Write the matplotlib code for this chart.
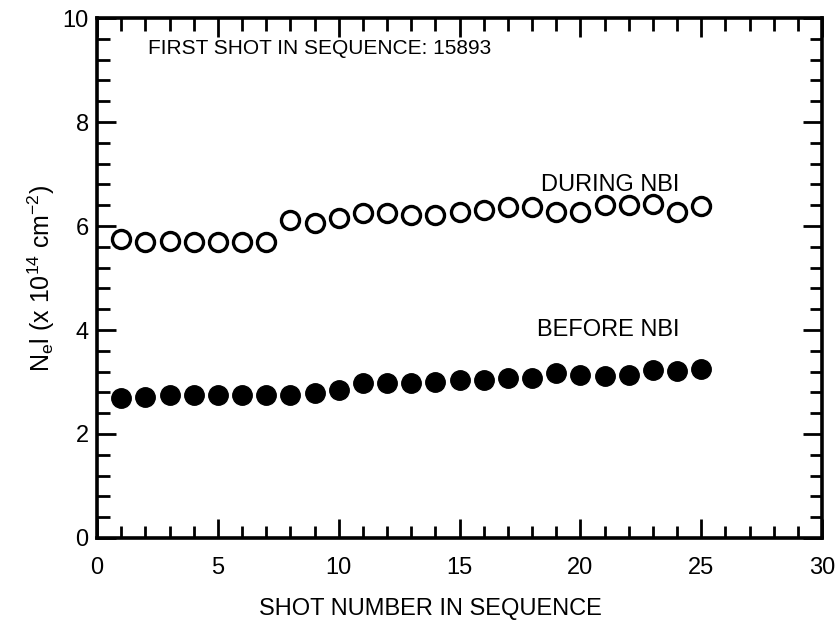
import matplotlib.pyplot as plt
from matplotlib.ticker import MultipleLocator

plt.rcParams['font.family'] = ['Liberation Sans', 'DejaVu Sans']

# shot number in sequence
shots = list(range(1, 26))
# line density during NBI (open circles), x 10^14 cm^-2
during_nbi = [5.75, 5.70, 5.72, 5.70, 5.70, 5.70, 5.70, 6.12, 6.06, 6.15,
              6.25, 6.25, 6.21, 6.21, 6.27, 6.31, 6.37, 6.37, 6.27, 6.27,
              6.40, 6.40, 6.42, 6.27, 6.38]
# line density before NBI (filled circles)
before_nbi = [2.69, 2.71, 2.75, 2.75, 2.75, 2.75, 2.75, 2.75, 2.79, 2.85,
              2.98, 2.98, 2.98, 3.00, 3.03, 3.04, 3.08, 3.08, 3.17, 3.13,
              3.12, 3.13, 3.23, 3.21, 3.25]

fig = plt.figure(figsize=(8.38, 6.26), dpi=100)
ax = fig.add_axes([0.1158, 0.1406, 0.8652, 0.8306])

ax.plot(shots, during_nbi, 'o', mfc='white', mec='black', mew=2.4, ms=13, ls='none')
ax.plot(shots, before_nbi, 'o', mfc='black', mec='black', ms=14, ls='none')

ax.set_xlim(0, 30)
ax.set_ylim(0, 10)
ax.xaxis.set_major_locator(MultipleLocator(5))
ax.xaxis.set_minor_locator(MultipleLocator(1))
ax.yaxis.set_major_locator(MultipleLocator(2))
ax.yaxis.set_minor_locator(MultipleLocator(0.4))
ax.tick_params(which='both', direction='in', top=True, right=True, width=2,
               labelsize=17)
ax.tick_params(axis='x', pad=14)
ax.tick_params(axis='y', pad=6)
ax.tick_params(which='major', length=14)
ax.tick_params(which='minor', length=9)
for s in ax.spines.values():
    s.set_linewidth(2.6)

ax.set_xlabel('SHOT NUMBER IN SEQUENCE', fontsize=17)
ax.xaxis.set_label_coords(0.46, -0.115)
ax.set_ylabel(r'N$_{\mathregular{e}}$l (x 10$^{\mathregular{14}}$ cm$^{\mathregular{-2}}$)',
              fontsize=18, labelpad=4)

ax.text(2.1, 9.42, 'FIRST SHOT IN SEQUENCE: 15893', fontsize=15, va='center')
ax.text(24.1, 6.79, 'DURING NBI', fontsize=17, va='center', ha='right')
ax.text(24.1, 4.0, 'BEFORE NBI', fontsize=17, va='center', ha='right')

fig.savefig('out.png', dpi=100)
